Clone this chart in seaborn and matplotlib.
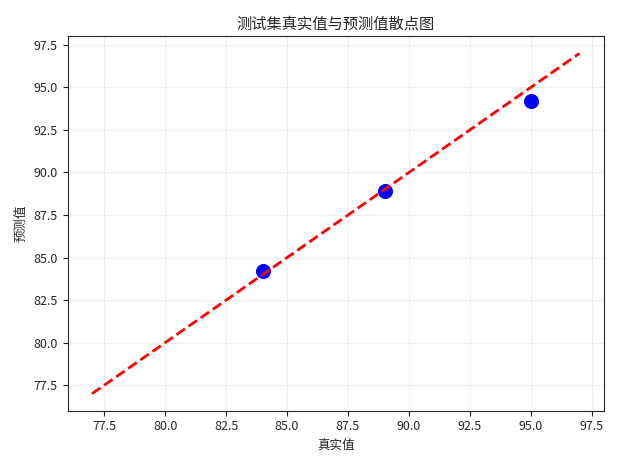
import matplotlib
matplotlib.use("Agg")
import matplotlib.pyplot as plt
import seaborn as sns

y_true = [84.0, 89.0, 95.0]
y_pred = [84.2, 88.9, 94.2]
line_range = [77.0, 97.0]

sns.set_style("ticks")
plt.rcParams['font.family'] = ['Noto Sans CJK SC', 'DejaVu Sans']
plt.rcParams['axes.unicode_minus'] = False

fig, ax = plt.subplots(figsize=(6.2, 4.67), dpi=100)
sns.scatterplot(x=y_true, y=y_pred, color='blue', s=100, ax=ax, edgecolor='blue')
sns.lineplot(x=line_range, y=line_range, color='red', linestyle='--', linewidth=2, ax=ax)
ax.set_title('测试集真实值与预测值散点图', fontsize=11)
ax.set_xlabel('真实值', fontsize=9)
ax.set_ylabel('预测值', fontsize=9)
ax.tick_params(labelsize=9)
ax.grid(True, alpha=0.3)
fig.tight_layout()
fig.savefig('out.png', dpi=100)
